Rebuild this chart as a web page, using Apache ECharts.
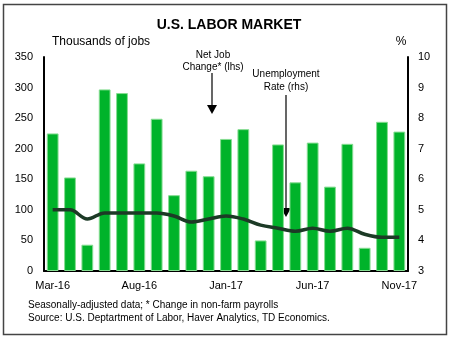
<!DOCTYPE html>
<html><head><meta charset="utf-8">
<script src="https://cdn.jsdelivr.net/npm/echarts@6/dist/echarts.min.js"></script>
<style>html,body{margin:0;padding:0;background:#fff}#c{width:450px;height:340px}</style>
</head><body><div id="c"></div>
<script>
const months = ['Mar-16','Apr-16','May-16','Jun-16','Jul-16','Aug-16','Sep-16','Oct-16','Nov-16','Dec-16','Jan-17','Feb-17','Mar-17','Apr-17','May-17','Jun-17','Jul-17','Aug-17','Sep-17','Oct-17','Nov-17'];
const jobChange = [225,153,43,297,291,176,249,124,164,155,216,232,50,207,145,210,138,208,38,244,228];
const unemployment = [5.0,5.0,4.7,4.9,4.9,4.9,4.9,4.8,4.6,4.7,4.8,4.7,4.5,4.4,4.3,4.4,4.3,4.4,4.2,4.1,4.1];
const leftTicks = {min:0,max:350,interval:50};
const rightTicks = {min:3,max:10,interval:1};

const font = 'Liberation Sans, Arial, sans-serif';
const chart = echarts.init(document.getElementById('c'));
const arrowHead = (x, y) => ({type:'polygon', shape:{points:[[x-5,y-9],[x+5,y-9],[x,y]]}, style:{fill:'#000'}});
chart.setOption({
  animation:false,
  textStyle:{fontFamily:font},
  grid:{left:44,right:42,top:57,bottom:69},
  xAxis:{type:'category',data:months,
    axisLine:{lineStyle:{color:'#000',width:2}},axisTick:{show:false},
    axisLabel:{interval:4,color:'#000',fontSize:11,margin:9,fontFamily:font}},
  yAxis:[
    {type:'value',min:leftTicks.min,max:leftTicks.max,interval:leftTicks.interval,
     axisLine:{show:true,lineStyle:{color:'#000',width:2}},axisTick:{show:false},splitLine:{show:false},
     axisLabel:{color:'#000',fontSize:11,margin:11,fontFamily:font}},
    {type:'value',min:rightTicks.min,max:rightTicks.max,interval:rightTicks.interval,position:'right',
     axisLine:{show:true,lineStyle:{color:'#000',width:2}},axisTick:{show:false},splitLine:{show:false},
     axisLabel:{color:'#000',fontSize:11,margin:10,fontFamily:font}}
  ],
  series:[
    {type:'bar',data:jobChange,barCategoryGap:'32%',
     itemStyle:{color:'#00b32a',borderColor:'#86dd92',borderWidth:1}},
    {type:'line',yAxisIndex:1,data:unemployment,smooth:0.35,showSymbol:false,
     lineStyle:{color:'#1c3a26',width:3.5}}
  ],
  graphic:[
    {type:'rect',shape:{x:3.5,y:4.5,width:443,height:330},style:{fill:'none',stroke:'#444',lineWidth:1.5},silent:true},
    {type:'text',x:229,y:25,style:{text:'U.S. LABOR MARKET',font:'bold 14px '+font,fill:'#000',textAlign:'center',textVerticalAlign:'middle'}},
    {type:'text',x:52,y:42,style:{text:'Thousands of jobs',font:'12px '+font,fill:'#000',textVerticalAlign:'middle'}},
    {type:'text',x:401,y:42,style:{text:'%',font:'12px '+font,fill:'#000',textAlign:'center',textVerticalAlign:'middle'}},
    {type:'text',x:213,y:61,style:{text:'Net Job\nChange* (lhs)',font:'10px '+font,fill:'#000',textAlign:'center',textVerticalAlign:'middle',lineHeight:12}},
    {type:'line',shape:{x1:212,y1:73,x2:212,y2:106},style:{stroke:'#000',lineWidth:1.2}},
    arrowHead(212,114),
    {type:'text',x:286,y:81,style:{text:'Unemployment\nRate (rhs)',font:'10px '+font,fill:'#000',textAlign:'center',textVerticalAlign:'middle',lineHeight:13}},
    {type:'line',shape:{x1:286,y1:95,x2:286,y2:209},style:{stroke:'#000',lineWidth:1.2}},
    arrowHead(286,217),
    {type:'text',x:28,y:305,style:{text:'Seasonally-adjusted data; * Change in non-farm payrolls',font:'10px '+font,fill:'#000',textVerticalAlign:'middle'}},
    {type:'text',x:28,y:318,style:{text:'Source: U.S. Deptartment of Labor, Haver Analytics, TD Economics.',font:'10px '+font,fill:'#000',textVerticalAlign:'middle'}}
  ]
});
</script></body></html>
